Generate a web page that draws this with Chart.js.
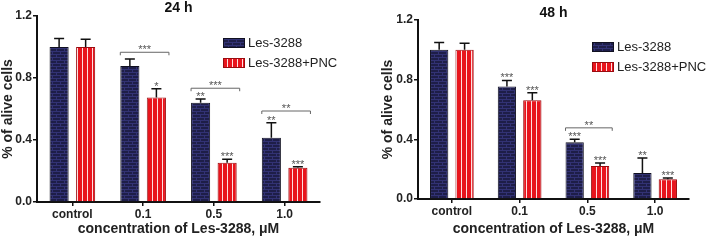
<!DOCTYPE html>
<html>
<head>
<meta charset="utf-8">
<script src="https://cdn.jsdelivr.net/npm/chart.js@4.4.1/dist/chart.umd.min.js"></script>
<style>
  body { margin: 0; background: #fff; }
  #wrap { display: flex; width: 709px; height: 241px; }
  canvas { display: block; }
</style>
</head>
<body>
<div id="wrap">
  <canvas id="c24" width="354" height="241"></canvas>
  <canvas id="c48" width="355" height="241"></canvas>
</div>
<script>
var labels = ['control', '0.1', '0.5', '1.0'];
var seriesNames = ['Les-3288', 'Les-3288+PNC'];

// 24 h
var blue24 = [1.0, 0.877, 0.64, 0.415];
var blueErr24 = [0.055, 0.045, 0.025, 0.097];
var red24 = [1.0, 0.675, 0.254, 0.221];
var redErr24 = [0.05, 0.055, 0.022, 0.007];
var blueStars24 = ['', '', '**', '**'];
var redStars24 = ['', '*', '***', '***'];
var brackets24 = [
  { cat: 1, y: 0.966, text: '***' },
  { cat: 2, y: 0.734, text: '***' },
  { cat: 3, y: 0.587, text: '**' }
];

// 48 h
var blue48 = [1.0, 0.755, 0.38, 0.175];
var blueErr48 = [0.05, 0.04, 0.02, 0.10];
var red48 = [1.0, 0.662, 0.222, 0.133];
var redErr48 = [0.044, 0.05, 0.02, 0.007];
var blueStars48 = ['', '***', '***', '**'];
var redStars48 = ['', '***', '***', '***'];
var brackets48 = [
  { cat: 2, y: 0.477, text: '**' }
];

var yTicks = [0, 0.4, 0.8, 1.2];
var FONT = "'Liberation Sans', Arial, sans-serif";

function brickPattern() {
  var c = document.createElement('canvas');
  c.width = 8; c.height = 6;
  var g = c.getContext('2d');
  g.fillStyle = '#1e1e48';
  g.fillRect(0, 0, 8, 6);
  g.fillStyle = '#323274';
  g.fillRect(0, 0, 8, 1);
  g.fillRect(0, 3, 8, 1);
  g.fillRect(0, 1, 1, 2);
  g.fillRect(4, 4, 1, 2);
  return g.createPattern(c, 'repeat');
}

function stripePattern() {
  var c = document.createElement('canvas');
  c.width = 5; c.height = 4;
  var g = c.getContext('2d');
  g.fillStyle = '#e8151d';
  g.fillRect(0, 0, 5, 4);
  g.fillStyle = '#fde0e0';
  g.fillRect(2, 0, 1, 4);
  return g.createPattern(c, 'repeat');
}

var bluePat = brickPattern();
var redPat = stripePattern();

// error bars, stars, brackets, legend
var extras = {
  id: 'extras',
  afterDatasetsDraw: function(chart) {
    var ctx = chart.ctx;
    var ys = chart.scales.y;
    var o = chart.options.plugins.extras;
    var area = chart.chartArea;
    ctx.save();
    chart.data.datasets.forEach(function(ds, di) {
      var meta = chart.getDatasetMeta(di);
      meta.data.forEach(function(bar, i) {
        var top = ys.getPixelForValue(ds.data[i] + o.errors[di][i]);
        ctx.strokeStyle = '#111';
        ctx.lineWidth = 1.5;
        ctx.beginPath();
        ctx.moveTo(bar.x, bar.y);
        ctx.lineTo(bar.x, top);
        ctx.moveTo(bar.x - 5, top);
        ctx.lineTo(bar.x + 5, top);
        ctx.stroke();
        var s = o.stars[di][i];
        if (s) {
          ctx.fillStyle = '#555';
          ctx.font = '11px ' + FONT;
          ctx.textAlign = 'center';
          ctx.textBaseline = 'alphabetic';
          ctx.fillText(s, bar.x, top + 1);
        }
      });
    });
    var m0 = chart.getDatasetMeta(0), m1 = chart.getDatasetMeta(1);
    o.brackets.forEach(function(b) {
      var b0 = m0.data[b.cat], b1 = m1.data[b.cat];
      var x0 = b0.x - b0.width / 2;
      var x1 = b1.x + b1.width / 2 + 3;
      var y = ys.getPixelForValue(b.y);
      ctx.strokeStyle = '#666';
      ctx.lineWidth = 1;
      ctx.beginPath();
      ctx.moveTo(x0, y + 3);
      ctx.lineTo(x0, y);
      ctx.lineTo(x1, y);
      ctx.lineTo(x1, y + 3);
      ctx.stroke();
      ctx.fillStyle = '#555';
      ctx.font = '11px ' + FONT;
      ctx.textAlign = 'center';
      ctx.textBaseline = 'alphabetic';
      ctx.fillText(b.text, (x0 + x1) / 2, y + 1);
    });
    // legend
    var lx = area.right - 97, ly = area.top + 22;
    chart.data.datasets.forEach(function(ds, di) {
      var yy = ly + di * 20;
      ctx.fillStyle = ds.backgroundColor;
      ctx.fillRect(lx, yy, 22, 10);
      ctx.strokeStyle = ds.borderColor;
      ctx.lineWidth = 1;
      ctx.strokeRect(lx + 0.5, yy + 0.5, 21, 9);
      ctx.fillStyle = '#222';
      ctx.font = '13px ' + FONT;
      ctx.textAlign = 'left';
      ctx.textBaseline = 'middle';
      ctx.fillText(ds.label, lx + 25, yy + 5.5);
    });
    ctx.restore();
  }
};

function makeChart(id, title, blue, red, errs, stars, brackets, lay) {
  return new Chart(document.getElementById(id), {
    type: 'bar',
    data: {
      labels: labels,
      datasets: [
        { label: seriesNames[0], data: blue, backgroundColor: bluePat, borderColor: '#101020', borderWidth: 1 },
        { label: seriesNames[1], data: red, backgroundColor: redPat, borderColor: '#9a0c10', borderWidth: 1 }
      ]
    },
    plugins: [extras],
    options: {
      responsive: false,
      devicePixelRatio: 1,
      animation: false,
      categoryPercentage: 0.75,
      barPercentage: 0.72,
      layout: { padding: { left: lay.left, right: lay.right, top: 0, bottom: 0 } },
      plugins: {
        legend: { display: false },
        tooltip: { enabled: false },
        title: {
          display: true,
          text: title,
          fullSize: false,
          color: '#111',
          font: { family: FONT, size: 14, weight: 'bold', lineHeight: 1 },
          padding: { top: lay.titleTop, bottom: lay.titleBottom }
        },
        extras: { errors: errs, stars: stars, brackets: brackets }
      },
      scales: {
        x: {
          grid: { display: true, drawOnChartArea: false, offset: false, tickLength: 4, color: '#111', lineWidth: 1.5 },
          border: { display: true, color: '#111', width: 2 },
          ticks: { color: '#222', padding: 1, font: { family: FONT, size: 12, weight: 'bold' } },
          title: {
            display: true,
            text: 'concentration of Les-3288, \u03bcM',
            color: '#222',
            font: { family: FONT, size: 14, weight: 'bold' },
            padding: { top: 0, bottom: 3 }
          },
          afterFit: function(s) { s.height = lay.xHeight; }
        },
        y: {
          min: 0,
          max: 1.2,
          afterBuildTicks: function(s) { s.ticks = yTicks.map(function(v) { return { value: v }; }); },
          grid: { display: true, drawOnChartArea: false, tickLength: 4, color: '#111', lineWidth: 1.5 },
          border: { display: true, color: '#111', width: 2 },
          ticks: {
            color: '#222',
            padding: 1,
            font: { family: FONT, size: 12, weight: 'bold' },
            callback: function(v) { return Number(v).toFixed(1); }
          },
          title: {
            display: true,
            text: '% of alive cells',
            color: '#222',
            font: { family: FONT, size: 14, weight: 'bold' },
            padding: 0
          },
          afterFit: function(s) { s.width = lay.yWidth; }
        }
      }
    }
  });
}

makeChart('c24', '24 h', blue24, red24, [blueErr24, redErr24], [blueStars24, redStars24], brackets24,
  { left: 0, right: 34, yWidth: 37, xHeight: 39, titleTop: 1, titleBottom: 1 });
makeChart('c48', '48 h', blue48, red48, [blueErr48, redErr48], [blueStars48, redStars48], brackets48,
  { left: 26, right: 20, yWidth: 38, xHeight: 42, titleTop: 6, titleBottom: 0 });
</script>
</body>
</html>
